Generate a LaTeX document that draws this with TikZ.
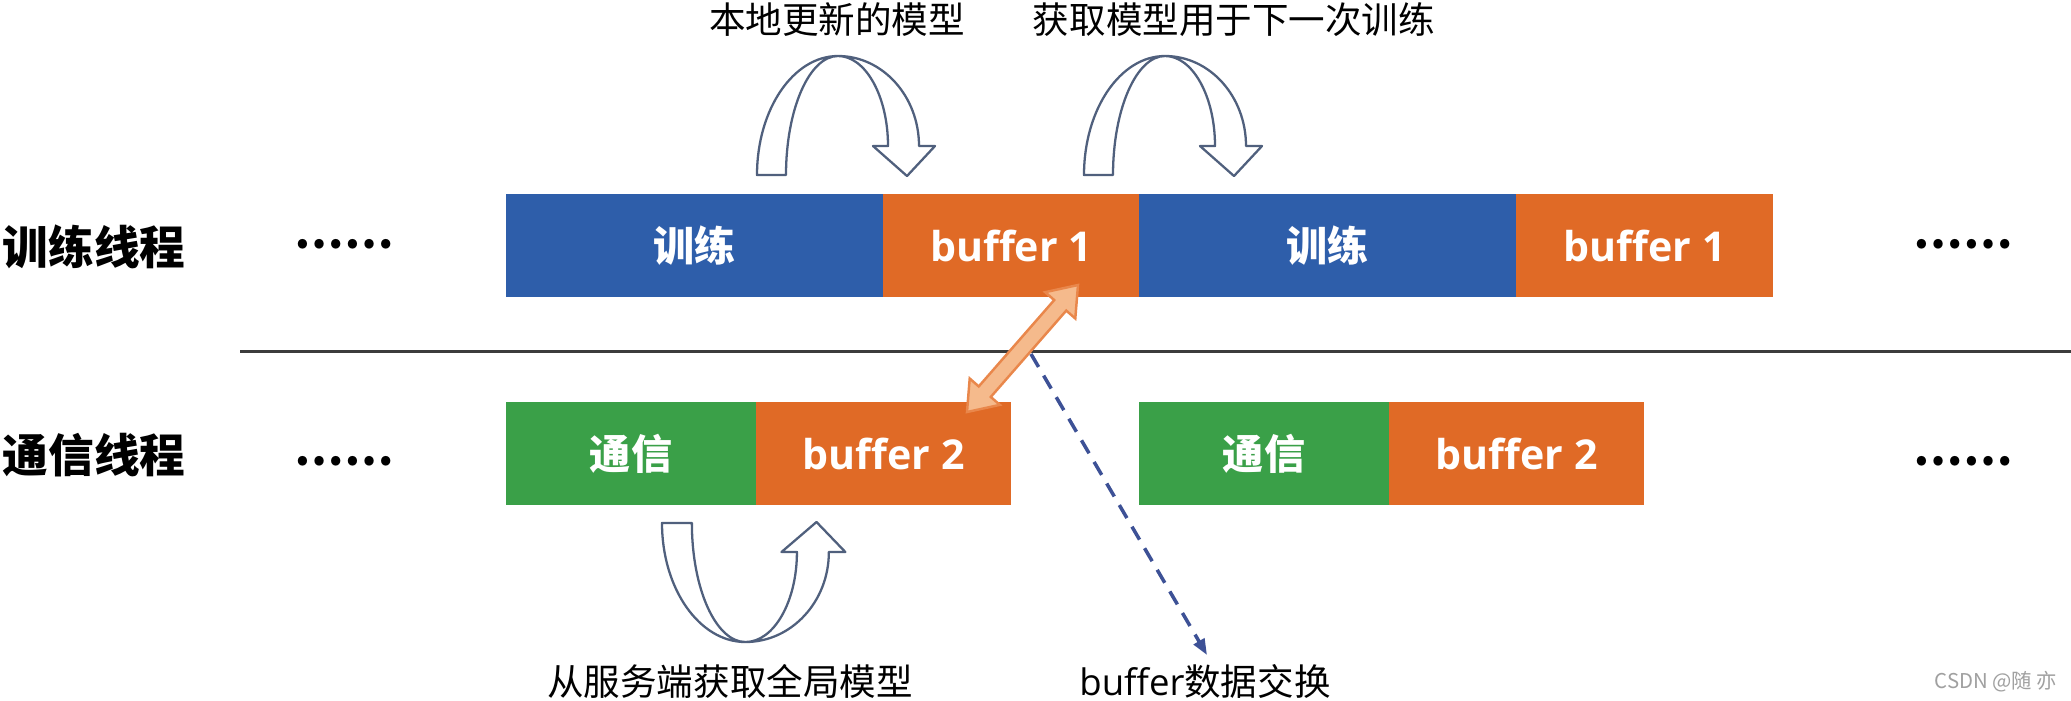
\documentclass[tikz,border=0pt]{standalone}
\usepackage{fontspec}
\setmainfont{Noto Sans CJK SC}
\newfontfamily\latinf{Open Sans}
\usetikzlibrary{arrows.meta,calc}
\definecolor{cblue}{RGB}{46,94,170}
\definecolor{corange}{RGB}{224,106,38}
\definecolor{cgreen}{RGB}{58,160,72}
\definecolor{lorange}{RGB}{245,186,140}
\definecolor{borange}{RGB}{233,135,75}
\definecolor{dblue}{RGB}{61,81,150}
\definecolor{aline}{RGB}{80,96,125}
\definecolor{sepc}{RGB}{60,60,60}
\definecolor{wmark}{RGB}{160,160,160}
\tikzset{
  blk/.style={rectangle, inner sep=0pt, outer sep=0pt, minimum height=10.3mm, anchor=north west, text=white, font=\fontsize{11.7}{13}\selectfont\bfseries},
  rowlbl/.style={inner sep=0pt, anchor=west, font=\fontsize{13}{15}\selectfont\bfseries},
  dotsn/.style={inner sep=0pt, font=\fontsize{12.5}{14}\selectfont\bfseries},
  note/.style={inner sep=0pt, font=\fontsize{10.4}{12}\selectfont},
  arrline/.style={draw=aline, line width=0.65pt, fill=white, line join=round},
  xarr/.style={draw=borange, line width=0.7pt, fill=lorange, line join=miter},
  dasharr/.style={draw=dblue, line width=1pt, dash pattern=on 1.5mm off 1.0mm, -{Triangle[length=1.6mm,width=1.2mm]}},
  sepline/.style={draw=sepc, line width=0.85pt},
  curvarr/.pic={
    \path[arrline] (0,0) .. controls (0,-65.7) and (36.3,-119) .. (81,-119)
      .. controls (125.7,-119) and (162,-78.7) .. (162,-29)
      -- (178,-29) -- (150,1) -- (116,-29) -- (131,-29)
      .. controls (131,-78.7) and (108.6,-119) .. (81,-119)
      .. controls (52.3,-119) and (29,-65.7) .. (29,0) -- cycle;
  }
}
\begin{document}
\begin{tikzpicture}[x=0.1mm,y=-0.1mm]
\useasboundingbox[fill=white] (0,0) rectangle (2071,700);

% row labels
\node[rowlbl] (lt) at (2,247) {训练线程};
\node[rowlbl] (lc) at (2,455) {通信线程};

% dots
\node[dotsn] (d1) at (344,244) {……};
\node[dotsn] (d2) at (344,461) {……};
\node[dotsn] (d3) at (1963,244) {……};
\node[dotsn] (d4) at (1963,461) {……};

% training row
\node[blk, fill=cblue, minimum width=37.7mm] (t1) at (506,194) {训练};
\node[blk, fill=corange, minimum width=25.6mm] (t2) at (t1.north east) {\latinf\bfseries buffer 1};
\node[blk, fill=cblue, minimum width=37.7mm] (t3) at (t2.north east) {训练};
\node[blk, fill=corange, minimum width=25.7mm] (t4) at (t3.north east) {\latinf\bfseries buffer 1};

% communication row
\node[blk, fill=cgreen, minimum width=25.0mm] (c1) at (506,402) {通信};
\node[blk, fill=corange, minimum width=25.5mm] (c2) at (c1.north east) {\latinf\bfseries buffer 2};
\node[blk, fill=cgreen, minimum width=25.0mm] (c3) at (1139,402) {通信};
\node[blk, fill=corange, minimum width=25.5mm] (c4) at (c3.north east) {\latinf\bfseries buffer 2};

% separator
\coordinate (sepL) at (240,351);
\coordinate (sepR) at (2071,351);
\draw[sepline] (sepL) -- (sepR);

% curved outline arrows
\pic at (757,175) {curvarr};
\pic at (1084,175) {curvarr};
\pic[yscale=-1, xscale=1.03] at (662,523) {curvarr};

% annotations
\node[note] (n1) at (837,20) {本地更新的模型};
\node[note] (n2) at (1234,20) {获取模型用于下一次训练};
\node[note] (n3) at (730,681) {从服务端获取全局模型};
\node[note] (n4) at (1205,681) {{\latinf buffer}数据交换};

% buffer exchange double arrow
\coordinate (xa) at ($(c2.north east)+(-44,10)$);
\coordinate (xb) at ($(t2.south east)+(-61,-12)$);
\path[xarr] (xa)
  -- ($(xa)!0.16!(xb)!2.0mm!90:(xb)$)
  -- ($(xa)!0.16!(xb)!0.8mm!90:(xb)$)
  -- ($(xa)!0.84!(xb)!0.8mm!-90:(xa)$)
  -- ($(xa)!0.84!(xb)!2.0mm!-90:(xa)$)
  -- (xb)
  -- ($(xa)!0.84!(xb)!2.0mm!90:(xa)$)
  -- ($(xa)!0.84!(xb)!0.8mm!90:(xa)$)
  -- ($(xa)!0.16!(xb)!0.8mm!-90:(xb)$)
  -- ($(xa)!0.16!(xb)!2.0mm!-90:(xb)$)
  -- cycle;

% dashed arrow
\coordinate (ds) at (1031,354);
\coordinate (de) at (1207,655);
\draw[dasharr] (ds) -- (de);

% watermark
\node[inner sep=0pt, text=wmark, font=\fontsize{5.8}{7}\selectfont] (wm) at (1996,682) {CSDN @随 亦};
\end{tikzpicture}
\end{document}
